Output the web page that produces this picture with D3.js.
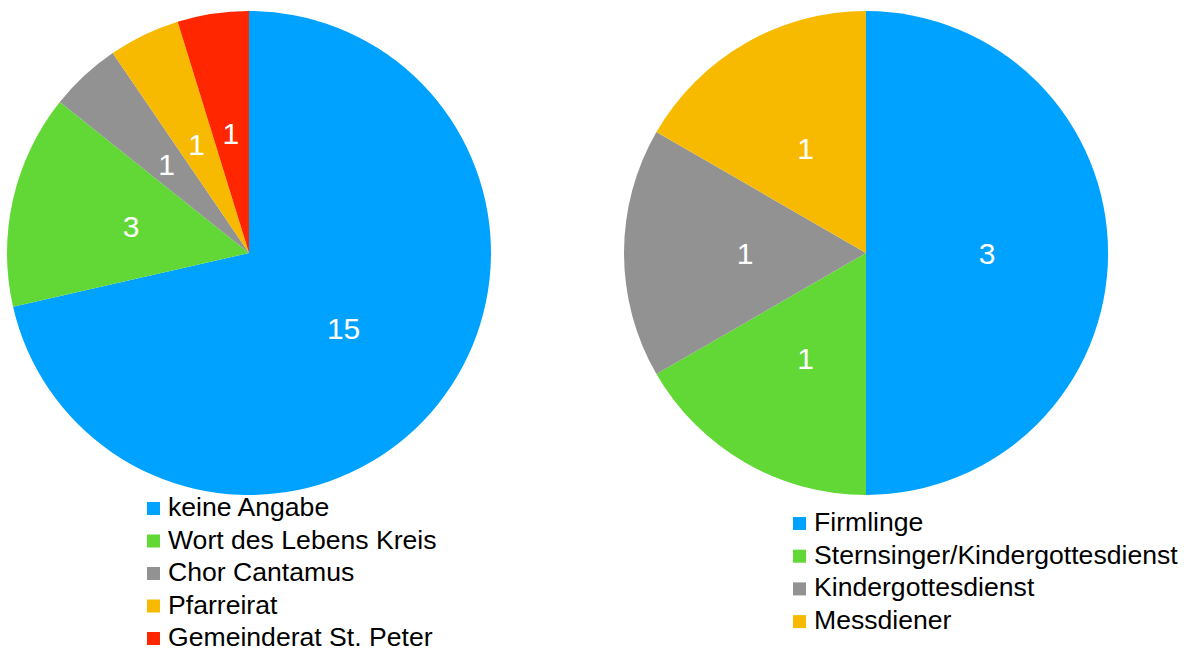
<!DOCTYPE html>
<html>
<head>
<meta charset="utf-8">
<script src="https://cdn.jsdelivr.net/npm/d3@7"></script>
<style>
  body { margin: 0; background: #fff; }
  svg { display: block; font-family: "Liberation Sans", Arial, sans-serif; }
</style>
</head>
<body>
<svg width="1184" height="649"></svg>
<script>
// left pie
let leftCategories = ['keine Angabe', 'Wort des Lebens Kreis', 'Chor Cantamus', 'Pfarreirat', 'Gemeinderat St. Peter']
let leftValues = [15, 3, 1, 1, 1]
let leftColors = ['#00a2ff', '#61d836', '#929292', '#f8ba00', '#ff2600']

// right pie
let rightCategories = ['Firmlinge', 'Sternsinger/Kindergottesdienst', 'Kindergottesdienst', 'Messdiener']
let rightValues = [3, 1, 1, 1]
let rightColors = ['#00a2ff', '#61d836', '#929292', '#f8ba00']

let svg = d3.select('svg')

function drawPie(cx, cy, r, cats, vals, colors, legX, legY, legStep) {
  let data = cats.map((c, i) => ({ name: c, value: vals[i], color: colors[i] }))

  let pie = d3.pie()
    .value(d => d.value)
    .sort(null)

  let arc = d3.arc().innerRadius(0).outerRadius(r)
  let labelArc = d3.arc().innerRadius(r * 0.5).outerRadius(r * 0.5)

  let g = svg.append('g').attr('transform', `translate(${cx},${cy})`)
  let arcs = pie(data)

  g.selectAll('path')
    .data(arcs)
    .enter().append('path')
    .attr('d', arc)
    .attr('fill', d => d.data.color)

  g.selectAll('text')
    .data(arcs)
    .enter().append('text')
    .attr('transform', d => `translate(${labelArc.centroid(d)})`)
    .attr('text-anchor', 'middle')
    .attr('dy', '0.36em')
    .attr('fill', '#fff')
    .style('font-size', '30px')
    .text(d => d.data.value)

  let leg = svg.append('g').attr('transform', `translate(${legX},${legY})`)
  let item = leg.selectAll('g')
    .data(data)
    .enter().append('g')
    .attr('transform', (d, i) => `translate(0,${i * legStep})`)

  item.append('rect')
    .attr('x', 0)
    .attr('y', -14)
    .attr('width', 13)
    .attr('height', 13)
    .attr('fill', d => d.color)

  item.append('text')
    .attr('x', 21)
    .attr('y', 0)
    .attr('fill', '#000')
    .style('font-size', '26.6px')
    .text(d => d.name)
}

drawPie(249, 253, 242, leftCategories, leftValues, leftColors, 147, 516, 32.5)
drawPie(866, 253, 242, rightCategories, rightValues, rightColors, 793, 531, 32.7)
</script>
</body>
</html>
